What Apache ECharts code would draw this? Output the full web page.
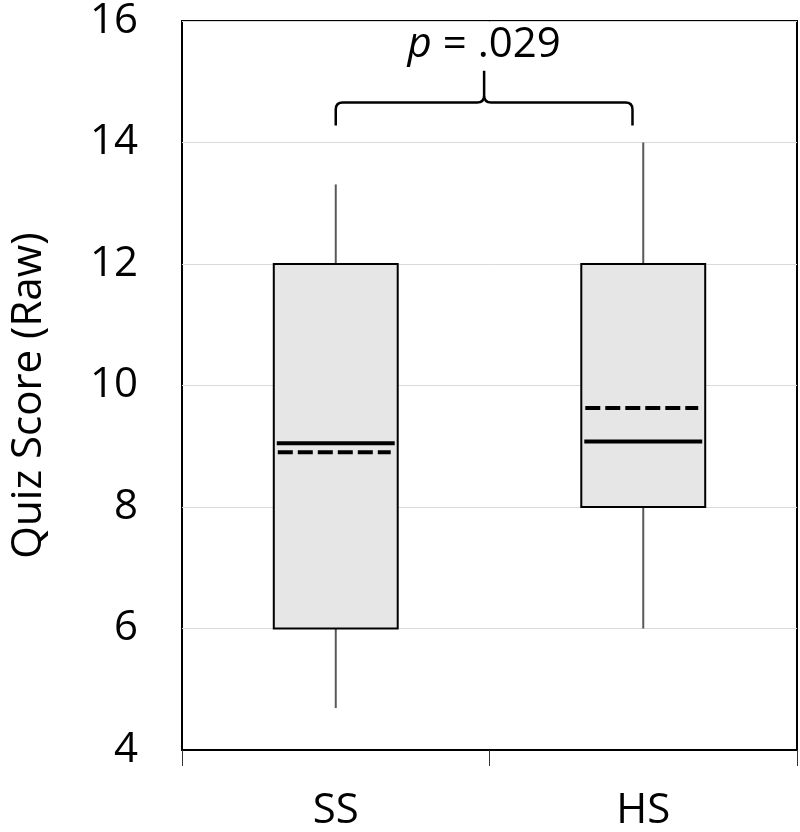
<!DOCTYPE html>
<html><head><meta charset="utf-8">
<script src="https://cdn.jsdelivr.net/npm/echarts@6/dist/echarts.min.js"></script>
<style>html,body{margin:0;padding:0;background:#fff}#c{width:800px;height:832px}</style>
</head><body><div id="c"></div>
<script>
// ---- data ----
const categories = ['SS', 'HS'];
const whiskerLow = [4.69, 6.0];
const quartile1 = [6.0, 8.0];
const medians = [9.05, 9.08];
const quartile3 = [12.0, 12.0];
const whiskerHigh = [13.31, 14.0];
const means = [8.9, 9.63];
const yTickValues = [4, 6, 8, 10, 12, 14, 16];
const pValueText = '.029';

const FONT = '"Open Sans", sans-serif';
const boxData = categories.map((c, i) => [i, whiskerLow[i], quartile1[i], medians[i], quartile3[i], whiskerHigh[i], means[i]]);

function renderBox(params, api) {
  const i = api.value(0);
  const band = api.size([1, 0])[0];
  const w = band * 0.403;
  const x = api.coord([i, api.value(3)])[0];
  const y = v => api.coord([i, v])[1];
  const yLow = y(api.value(1)), yQ1 = y(api.value(2)), yMed = y(api.value(3));
  const yQ3 = y(api.value(4)), yHigh = y(api.value(5)), yMean = y(api.value(6));
  const wh = { stroke: '#595959', lineWidth: 2 };
  return {
    type: 'group',
    children: [
      { type: 'line', shape: { x1: x, y1: yHigh, x2: x, y2: yQ3 }, style: wh },
      { type: 'line', shape: { x1: x, y1: yQ1, x2: x, y2: yLow }, style: wh },
      { type: 'rect', shape: { x: x - w / 2, y: yQ3, width: w, height: yQ1 - yQ3 },
        style: { fill: '#e6e6e6', stroke: '#000', lineWidth: 2 } },
      { type: 'line', shape: { x1: x - w / 2 + 3, y1: yMed, x2: x + w / 2 - 3, y2: yMed },
        style: { stroke: '#000', lineWidth: 4 } },
      { type: 'line', shape: { x1: x - w / 2 + 4, y1: yMean, x2: x + w / 2 - 7, y2: yMean },
        style: { stroke: '#000', lineWidth: 4, lineDash: [15, 5] } }
    ]
  };
}

function renderBrace(params, api) {
  const band = api.size([1, 0])[0];
  const x0 = api.coord([0, 14.66])[0];
  const x1 = api.coord([1, 14.66])[0] - band * 0.035;
  const xm = (x0 + x1) / 2;
  const yEnd = api.coord([0, 14.28])[1];
  const yBar = api.coord([0, 14.66])[1];
  const yTip = api.coord([0, 15.18])[1];
  const yText = api.coord([0, 15.6])[1];
  const r = 7;
  const d = `M${x0} ${yEnd} L${x0} ${yBar + r} Q${x0} ${yBar} ${x0 + r} ${yBar} L${xm - r} ${yBar} Q${xm} ${yBar} ${xm} ${yBar - r} L${xm} ${yTip} ` +
            `M${xm} ${yBar - r} Q${xm} ${yBar} ${xm + r} ${yBar} L${x1 - r} ${yBar} Q${x1} ${yBar} ${x1} ${yBar + r} L${x1} ${yEnd}`;
  return {
    type: 'group',
    children: [
      { type: 'path', shape: { pathData: d }, style: { stroke: '#000', lineWidth: 2.5, fill: null } },
      { type: 'text', x: xm, y: yText,
        style: { text: '{i|p} = ' + pValueText, x: 0, y: 0, align: 'center', verticalAlign: 'middle',
          font: '42px ' + FONT, fill: '#000',
          rich: { i: { fontStyle: 'italic', fontSize: 42, fontFamily: FONT, fill: '#000' } } } }
    ]
  };
}

const chart = echarts.init(document.getElementById('c'));
chart.setOption({
  animation: false,
  backgroundColor: '#fff',
  grid: { left: 177, right: 3, top: 18, bottom: 82, show: true, borderColor: '#000', borderWidth: 2, backgroundColor: 'transparent' },
  xAxis: {
    type: 'category', data: categories,
    axisLine: { lineStyle: { color: '#000', width: 2 } },
    axisTick: { show: true, length: 16, lineStyle: { color: '#333', width: 1 } },
    axisLabel: { fontSize: 42, fontFamily: FONT, color: '#000', margin: 40 }
  },
  yAxis: {
    type: 'value', min: yTickValues[0], max: yTickValues[yTickValues.length - 1], interval: 2,
    name: 'Quiz Score (Raw)', nameLocation: 'middle', nameGap: 132, nameRotate: 90,
    nameTextStyle: { fontSize: 42, fontFamily: FONT, color: '#000', padding: [0, 20, 0, 0] },
    axisLine: { show: false }, axisTick: { show: false },
    axisLabel: { fontSize: 42, fontFamily: FONT, color: '#000', margin: 44 },
    splitLine: { lineStyle: { color: '#d9d9d9', width: 1 } }
  },
  series: [
    { type: 'custom', renderItem: renderBox, data: boxData, encode: { x: 0, y: [1, 2, 3, 4, 5, 6] }, z: 3 },
    { type: 'custom', renderItem: renderBrace, data: [[0, 15]], encode: { x: 0, y: 1 }, z: 4 }
  ]
});
</script></body></html>
